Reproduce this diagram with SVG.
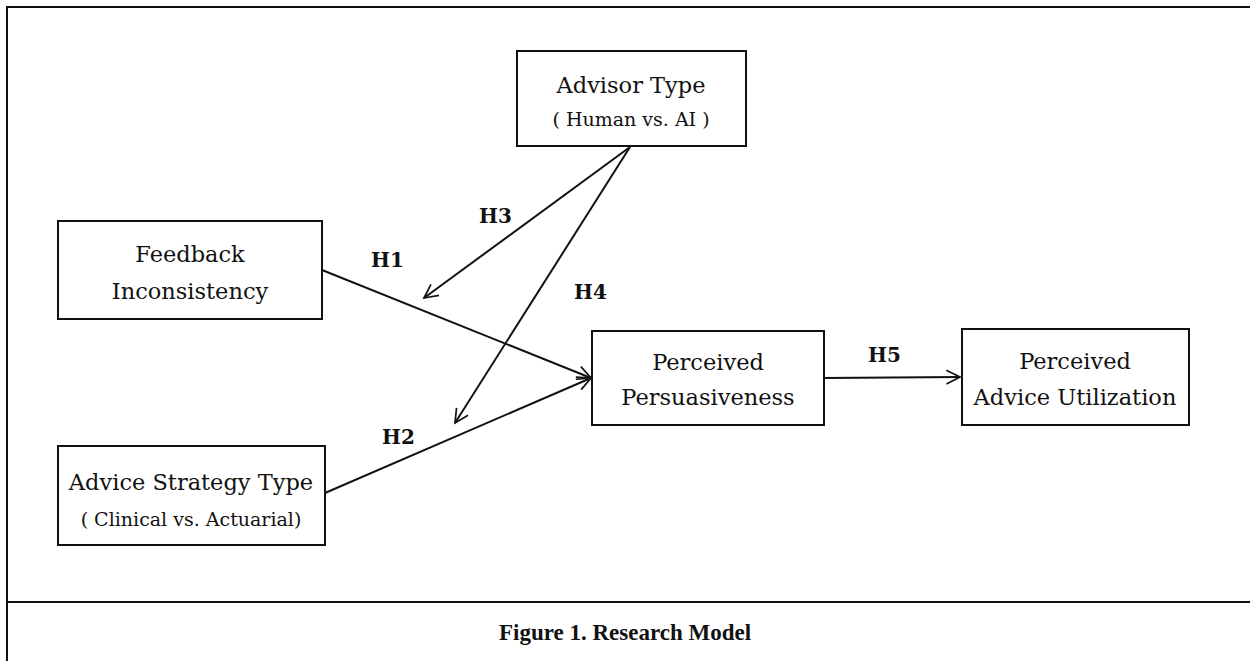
<svg xmlns="http://www.w3.org/2000/svg" width="1250" height="661" viewBox="0 0 1250 661">
<style>
.box{fill:#fff;stroke:#111;stroke-width:2}
.t{font-family:"DejaVu Serif","Liberation Serif",serif;fill:#111;text-anchor:middle}
.m{font-size:22.5px}
.s{font-size:19px}
.h{font-family:"DejaVu Serif","Liberation Serif",serif;font-weight:bold;font-size:20px;fill:#111}
.c{stroke:#111;stroke-width:2;fill:none;marker-end:url(#arr)}
</style>
<defs>
<marker id="arr" viewBox="0 0 20 20" refX="18" refY="10" markerWidth="17" markerHeight="17" markerUnits="userSpaceOnUse" orient="auto">
<path d="M2,2 L18,10 L2,18" fill="none" stroke="#111" stroke-width="2"/>
</marker>
</defs>
<rect width="1250" height="661" fill="#fff"/>
<g id="frame" stroke="#111" stroke-width="2" fill="none">
<path d="M7,661 V7 H1250"/>
<path d="M7,602 H1250"/>
</g>
<g id="connectors">
<line class="c" x1="322" y1="270" x2="591" y2="378"/>
<line class="c" x1="325" y1="493" x2="591" y2="378"/>
<line class="c" x1="630" y1="147" x2="424" y2="298"/>
<line class="c" x1="630" y1="147" x2="455" y2="423"/>
<line class="c" x1="824" y1="378" x2="960" y2="377"/>
</g>
<g id="labels">
<text class="h" x="479" y="223">H3</text>
<text class="h" x="371" y="267">H1</text>
<text class="h" x="574" y="299">H4</text>
<text class="h" x="382" y="444">H2</text>
<text class="h" x="868" y="362">H5</text>
</g>
<g id="advisor">
<rect class="box" x="517" y="51" width="229" height="95"/>
<text class="t m" x="631" y="93">Advisor Type</text>
<text class="t s" x="631" y="126">( Human vs. AI )</text>
</g>
<g id="feedback">
<rect class="box" x="58" y="221" width="264" height="98"/>
<text class="t m" x="190" y="262">Feedback</text>
<text class="t m" x="190" y="299">Inconsistency</text>
</g>
<g id="strategy">
<rect class="box" x="58" y="446" width="267" height="99"/>
<text class="t m" x="191" y="490">Advice Strategy Type</text>
<text class="t s" x="191" y="526">( Clinical vs. Actuarial)</text>
</g>
<g id="persuasiveness">
<rect class="box" x="592" y="331" width="232" height="94"/>
<text class="t m" x="708" y="370">Perceived</text>
<text class="t m" x="708" y="405">Persuasiveness</text>
</g>
<g id="utilization">
<rect class="box" x="962" y="329" width="227" height="96"/>
<text class="t m" x="1075" y="369">Perceived</text>
<text class="t m" x="1075" y="405">Advice Utilization</text>
</g>
<g id="caption">
<text class="t" x="625" y="640" style="font-family:'Liberation Serif',serif;font-weight:bold;font-size:23px">Figure 1.  Research Model</text>
</g>
</svg>
